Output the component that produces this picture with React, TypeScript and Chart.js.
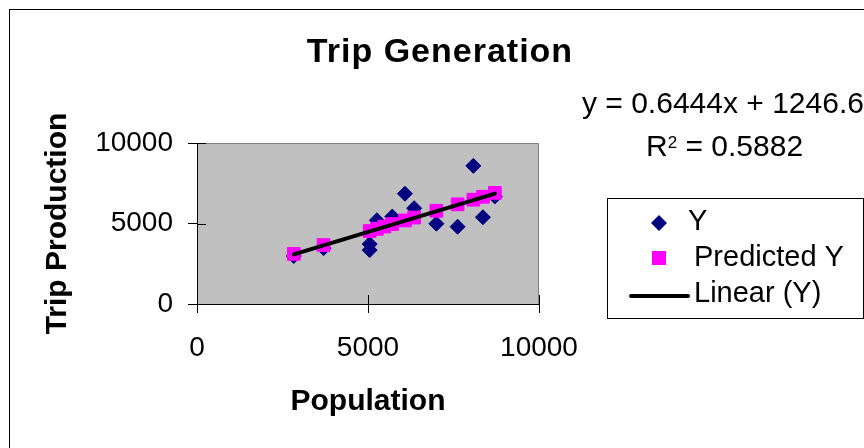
import React, { useEffect, useRef } from 'react';
import { Chart, registerables } from 'chart.js';

Chart.register(...registerables);

// ---- data ----
const population = [2830, 3700, 5050, 5050, 5260, 5710, 6080, 6350, 7000, 7620, 8080, 8360, 8710];
const tripProduction = [2980, 3470, 3720, 3350, 5200, 5430, 6850, 5950, 4990, 4800, 8580, 5390, 6680];
const predictedPopulation = [2830, 3700, 5050, 5260, 5480, 5710, 6080, 6350, 7000, 7620, 8080, 8360, 8710];
const predictedTrips = [3110, 3660, 4530, 4670, 4810, 4960, 5190, 5370, 5790, 6190, 6480, 6660, 6900];
const trendX = [2830, 8710];
const trendY = [3080, 6860];
const xTickValues = [0, 5000, 10000];
const yTickValues = [0, 5000, 10000];
const seriesLabels = ['Y', 'Predicted Y', 'Linear (Y)'];
const chartTitle = 'Trip Generation';
const xAxisTitle = 'Population';
const yAxisTitle = 'Trip Production';
const equationText = 'y = 0.6444x + 1246.6';
const rSquaredText = '0.5882';

const FONT = '"Liberation Sans", Arial, Helvetica, sans-serif';
const NAVY = '#000080';
const MAGENTA = '#FF00FF';

const decorPlugin = {
  id: 'decor',
  beforeDraw(chart: any) {
    const { ctx, chartArea: a } = chart;
    ctx.save();
    ctx.fillStyle = '#ffffff';
    ctx.fillRect(0, 0, chart.width, chart.height);
    ctx.fillStyle = '#C0C0C0';
    ctx.fillRect(a.left, a.top, a.right - a.left, a.bottom - a.top);
    ctx.strokeStyle = '#808080';
    ctx.lineWidth = 1;
    ctx.beginPath();
    ctx.moveTo(a.left, a.top + 0.5);
    ctx.lineTo(a.right - 0.5, a.top + 0.5);
    ctx.lineTo(a.right - 0.5, a.bottom);
    ctx.stroke();
    ctx.restore();
  },
  afterDraw(chart: any) {
    const { ctx, chartArea: a } = chart;
    const xs = chart.scales.x;
    const ys = chart.scales.y;
    ctx.save();
    // inner parts of the crossing tick marks
    ctx.strokeStyle = '#000';
    ctx.lineWidth = 1;
    ctx.beginPath();
    xTickValues.forEach((v) => {
      const px = Math.round(xs.getPixelForValue(v)) + 0.5;
      ctx.moveTo(px, a.bottom);
      ctx.lineTo(px, a.bottom - 9);
    });
    yTickValues.forEach((v) => {
      const py = Math.round(ys.getPixelForValue(v)) + 0.5;
      ctx.moveTo(a.left, py);
      ctx.lineTo(a.left + 9, py);
    });
    ctx.stroke();

    // title
    ctx.fillStyle = '#000';
    ctx.font = `bold 34px ${FONT}`;
    (ctx as any).letterSpacing = '1px';
    ctx.textAlign = 'center';
    ctx.textBaseline = 'alphabetic';
    ctx.fillText(chartTitle, 440, 62);
    (ctx as any).letterSpacing = '0px';

    // trendline equation
    ctx.textAlign = 'left';
    ctx.font = `30px ${FONT}`;
    ctx.fillText(equationText, 582, 113);
    let rx = 646;
    ctx.fillText('R', rx, 156);
    rx += ctx.measureText('R').width;
    ctx.font = `17px ${FONT}`;
    ctx.fillText('2', rx, 148);
    rx += ctx.measureText('2').width;
    ctx.font = `30px ${FONT}`;
    ctx.fillText(' = ' + rSquaredText, rx, 156);

    // legend
    ctx.strokeStyle = '#000';
    ctx.lineWidth = 1;
    ctx.strokeRect(607.5, 198.5, 256, 120);
    // diamond
    ctx.fillStyle = NAVY;
    ctx.beginPath();
    ctx.moveTo(659, 215);
    ctx.lineTo(667, 223);
    ctx.lineTo(659, 231);
    ctx.lineTo(651, 223);
    ctx.closePath();
    ctx.fill();
    // square
    ctx.fillStyle = MAGENTA;
    ctx.fillRect(652, 251, 14, 14);
    // line
    ctx.strokeStyle = '#000';
    ctx.lineWidth = 4;
    ctx.lineCap = 'round';
    ctx.beginPath();
    ctx.moveTo(631, 296);
    ctx.lineTo(688, 296);
    ctx.stroke();
    ctx.fillStyle = '#000';
    ctx.font = `29px ${FONT}`;
    ctx.fillText(seriesLabels[0], 688, 230);
    ctx.fillText(seriesLabels[1], 694, 266);
    ctx.fillText(seriesLabels[2], 694, 302);

    // outer chart border
    ctx.lineWidth = 1;
    ctx.strokeStyle = '#000';
    ctx.strokeRect(9.5, 9.5, 1000, 1000);
    ctx.restore();
  },
};

const plainNumber = (v: any) => String(v);

export default function App() {
  const ref = useRef<HTMLCanvasElement>(null);

  useEffect(() => {
    if (!ref.current) return;
    Chart.defaults.font.family = FONT;
    Chart.defaults.color = '#000';
    const chart = new Chart(ref.current, {
      type: 'scatter',
      data: {
        datasets: [
          {
            type: 'line',
            label: seriesLabels[2],
            data: trendX.map((x, i) => ({ x, y: trendY[i] })),
            borderColor: '#000',
            borderWidth: 4,
            pointRadius: 0,
            showLine: true,
            fill: false,
            order: 0,
            borderCapStyle: 'round',
          } as any,
          {
            label: seriesLabels[1],
            data: predictedPopulation.map((x, i) => ({ x, y: predictedTrips[i] })),
            pointStyle: 'rect',
            pointRadius: 9,
            backgroundColor: MAGENTA,
            borderColor: MAGENTA,
            borderWidth: 1,
            order: 1,
          },
          {
            label: seriesLabels[0],
            data: population.map((x, i) => ({ x, y: tripProduction[i] })),
            pointStyle: 'rectRot',
            pointRadius: 7.5,
            backgroundColor: NAVY,
            borderColor: NAVY,
            borderWidth: 1,
            order: 2,
          },
        ],
      },
      options: {
        responsive: false,
        animation: false,
        devicePixelRatio: 1,
        layout: { padding: { left: 0, top: 143, right: 325, bottom: 0 } },
        plugins: {
          legend: { display: false },
          tooltip: { enabled: false },
          title: { display: false },
        },
        scales: {
          x: {
            type: 'linear',
            min: 0,
            max: 10000,
            afterBuildTicks: (s: any) => {
              s.ticks = xTickValues.map((v) => ({ value: v }));
            },
            afterFit: (s: any) => {
              s.height = 144;
            },
            ticks: { font: { size: 28 }, color: '#000', padding: 18, maxRotation: 0, autoSkip: false, callback: plainNumber },
            grid: { drawOnChartArea: false, drawTicks: true, tickLength: 9, color: '#000', lineWidth: 1 },
            border: { display: true, color: '#000', width: 1 },
            title: {
              display: true,
              text: xAxisTitle,
              font: { size: 30, weight: 'bold' },
              color: '#000',
              padding: { top: 0, bottom: 28 },
            },
          },
          y: {
            type: 'linear',
            min: 0,
            max: 10000,
            afterBuildTicks: (s: any) => {
              s.ticks = yTickValues.map((v) => ({ value: v }));
            },
            afterFit: (s: any) => {
              s.width = 197;
            },
            ticks: { font: { size: 28 }, color: '#000', padding: 15, autoSkip: false, callback: plainNumber },
            grid: { drawOnChartArea: false, drawTicks: true, tickLength: 9, color: '#000', lineWidth: 1 },
            border: { display: true, color: '#000', width: 1 },
            title: {
              display: true,
              text: yAxisTitle,
              font: { size: 30, weight: 'bold' },
              color: '#000',
              padding: { top: 40, bottom: 0 },
            },
          },
        },
      } as any,
      plugins: [decorPlugin],
    });
    return () => chart.destroy();
  }, []);

  return (
    <div style={{ position: 'fixed', left: 0, top: 0, width: 864, height: 448, background: '#fff', overflow: 'hidden' }}>
      <canvas ref={ref} width={864} height={448} style={{ display: 'block', width: 864, height: 448 }} />
    </div>
  );
}
